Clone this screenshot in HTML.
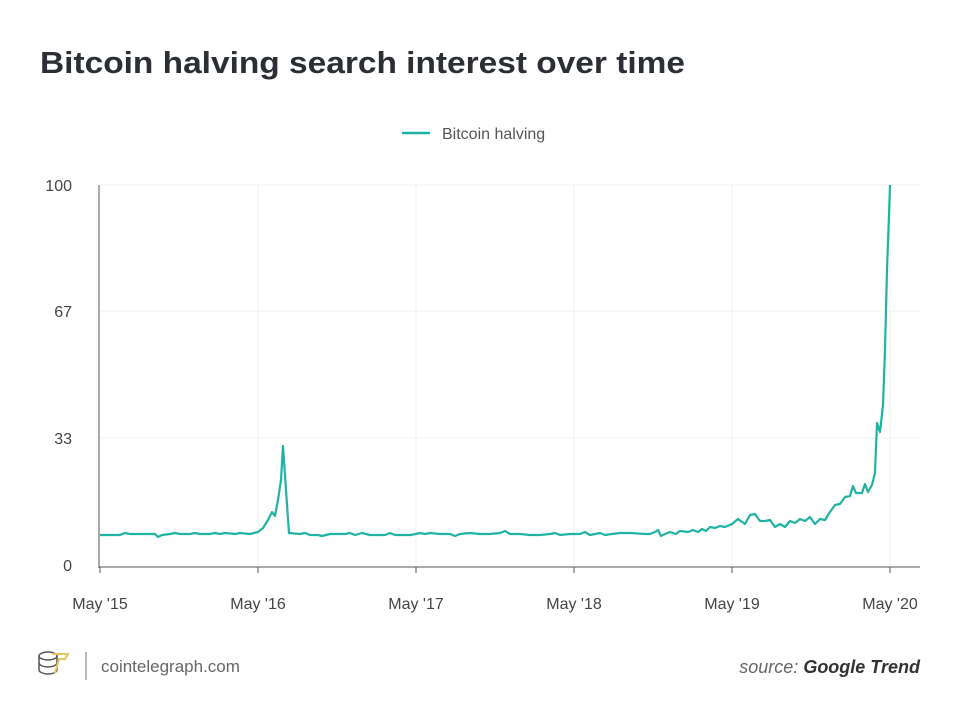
<!DOCTYPE html>
<html><head><meta charset="utf-8"><style>
body{margin:0;width:960px;height:720px;background:#fff;overflow:hidden;font-family:"Liberation Sans",sans-serif;}
</style></head><body>
<svg width="960" height="720" xmlns="http://www.w3.org/2000/svg" font-family="Liberation Sans, sans-serif">
<text x="40" y="73" font-size="31" font-weight="bold" fill="#2b2f33" textLength="645" lengthAdjust="spacingAndGlyphs">Bitcoin halving search interest over time</text>
<line x1="402" y1="133" x2="430" y2="133" stroke="#1fb3a3" stroke-width="2.5"/>
<text x="442" y="139" font-size="16" fill="#555">Bitcoin halving</text>
<g stroke="#f0f0f0" stroke-width="1">
<line x1="100" y1="185" x2="920" y2="185"/><line x1="100" y1="311" x2="920" y2="311"/><line x1="100" y1="438" x2="920" y2="438"/>
<line x1="258" y1="185" x2="258" y2="565"/><line x1="416" y1="185" x2="416" y2="565"/><line x1="574" y1="185" x2="574" y2="565"/><line x1="732" y1="185" x2="732" y2="565"/><line x1="890" y1="185" x2="890" y2="565"/>
</g>
<line x1="99" y1="185" x2="99" y2="568" stroke="#555" stroke-width="1"/>
<line x1="99" y1="567" x2="920" y2="567" stroke="#555" stroke-width="1"/>
<g stroke="#555"><line x1="100" y1="567" x2="100" y2="573"/><line x1="258" y1="567" x2="258" y2="573"/><line x1="416" y1="567" x2="416" y2="573"/><line x1="574" y1="567" x2="574" y2="573"/><line x1="732" y1="567" x2="732" y2="573"/><line x1="890" y1="567" x2="890" y2="573"/></g>
<g font-size="16" fill="#444" text-anchor="end">
<text x="72" y="191">100</text><text x="72" y="317">67</text><text x="72" y="444">33</text><text x="72" y="571">0</text></g>
<g font-size="16" fill="#444" text-anchor="middle">
<text x="100" y="609">May '15</text><text x="258" y="609">May '16</text><text x="416" y="609">May '17</text><text x="574" y="609">May '18</text><text x="732" y="609">May '19</text><text x="890" y="609">May '20</text></g>
<polyline fill="none" stroke="#1fb3a3" stroke-width="2.2" stroke-linejoin="round" points="100,535 120,535 125,533 130,534 155,534 158,537 162,535 170,534 175,533 180,534 190,534 195,533 200,534 210,534 215,533 220,534 225,533 235,534 240,533 250,534 258,532 263,528 268,520 272,512 275,516 278,500 281,480 283,446 286,490 289,533 300,534 305,533 310,535 318,535 322,536 330,534 345,534 350,533 355,535 362,533 370,535 385,535 390,533 395,535 410,535 416,534 420,533 425,534 430,533 440,534 450,534 455,536 460,534 470,533 480,534 490,534 500,533 505,531 510,534 520,534 530,535 540,535 550,534 555,533 560,535 570,534 580,534 585,532 590,535 600,533 605,535 612,534 620,533 630,533 645,534 650,534 655,532 658,530 661,536 665,534 670,532 676,534 680,531 688,532 693,530 698,532 702,529 706,531 710,527 715,528 720,526 725,527 732,524 738,519 745,524 750,515 755,514 760,521 765,521 770,520 775,527 780,524 785,527 790,521 795,523 800,519 805,521 810,517 815,524 820,519 825,520 830,512 835,505 840,504 845,497 850,496 853,486 856,493 862,493 865,484 868,492 872,485 875,473 877,423 880,432 883,405 885,350 887,270 889,215 890,185"/>
<g transform="translate(38,652)">
<ellipse cx="10" cy="4" rx="9" ry="4" fill="none" stroke="#555" stroke-width="1.5"/>
<path d="M1 4v14c0 2 4 4 9 4s9-2 9-4V4" fill="none" stroke="#555" stroke-width="1.5"/>
<path d="M1 11c0 2 4 4 9 4s9-2 9-4" fill="none" stroke="#555" stroke-width="1.5"/>
<path d="M14 2h16l-3 5h-6l-4 14" fill="none" stroke="#e8c55a" stroke-width="2"/>
</g>
<line x1="86" y1="652" x2="86" y2="680" stroke="#888" stroke-width="1.2"/>
<text x="101" y="672" font-size="17" fill="#666">cointelegraph.com</text>
<text x="920" y="673" font-size="18" fill="#666" text-anchor="end" font-style="italic">source: <tspan font-weight="bold" fill="#333">Google Trend</tspan></text>
</svg>
</body></html>
